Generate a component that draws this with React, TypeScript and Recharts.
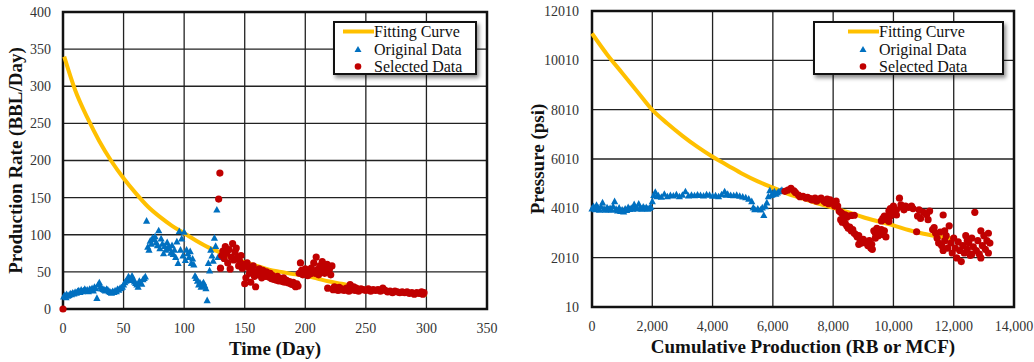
import React from 'react';
import { ScatterChart, Scatter, XAxis, YAxis, CartesianGrid, ReferenceArea, Legend, Label } from 'recharts';

const FONT = '"Liberation Serif", "Times New Roman", Times, serif';
const GOLD = '#FFC000';
const BLUE = '#0070C0';
const RED = '#C00000';

// ---------- Left chart: rate vs time ----------
const TIME_TICKS = [0, 50, 100, 150, 200, 250, 300, 350];
const RATE_TICKS = [0, 50, 100, 150, 200, 250, 300, 350, 400];

const RATE_CURVE = [
  [1, 340], [10, 295], [20, 258], [30, 226], [40, 199], [50, 176], [60, 156], [70, 138], [80, 124],
  [90, 112], [100, 102], [110, 92], [120, 83], [130, 76], [140, 69], [150, 63], [160, 58], [170, 53],
  [180, 50], [190, 47], [200, 45], [210, 41], [220, 37], [230, 34], [240, 30], [250, 27], [260, 25],
  [270, 23], [280, 21], [290, 20], [300, 19],
];

const RATE_ORIGINAL = [
  [0.5, 17], [1.5, 19], [2.5, 16], [3, 20], [4, 18], [5, 19], [6, 21], [7, 20], [8, 22], [9, 21], [10, 23],
  [11, 22], [12, 24], [13, 25], [14, 23], [15, 26], [16, 24], [17, 25], [18, 27], [19, 25], [20, 26],
  [21, 24], [22, 27], [23, 26], [24, 28], [25, 25], [26, 30], [27, 28], [28, 15], [29, 33], [30, 36],
  [31, 30], [32, 28], [33, 27], [34, 26], [35, 25], [36, 27], [37, 26], [38, 24], [39, 23], [40, 22],
  [41, 24], [42, 23], [43, 25], [44, 24], [45, 27], [46, 26], [47, 28], [48, 29], [49, 30], [50, 33],
  [51, 36], [52, 38], [53, 40], [54, 44], [55, 42], [56, 39], [57, 45], [58, 41], [59, 37], [60, 35],
  [61, 33], [62, 30], [63, 38], [64, 36], [65, 34], [66, 40], [67, 42], [68, 44], [69, 119], [70, 84],
  [71, 80], [72, 92], [73, 88], [74, 96], [75, 94], [76, 98], [77, 90], [78, 86], [79, 106], [80, 82],
  [81, 95], [82, 88], [83, 75], [84, 85], [85, 80], [86, 90], [87, 84], [88, 82], [89, 76], [90, 86],
  [91, 74], [92, 80], [93, 70], [94, 91], [95, 62], [96, 105], [97, 80], [98, 95], [99, 72], [100, 104],
  [101, 66], [102, 80], [103, 75], [104, 70], [105, 78], [106, 62], [107, 68], [108, 60], [109, 45],
  [110, 42], [111, 38], [112, 33], [113, 36], [114, 30], [115, 34], [116, 36], [117, 32], [118, 28],
  [119, 12], [120, 62], [121, 52], [122, 80], [123, 72], [124, 65], [125, 96], [126, 85], [127, 134], [128, 70],
];

const RATE_SELECTED = [
  [0, 0], [128.5, 148], [129.5, 183], [130, 55], [131, 72], [132, 78], [133, 68], [134, 84], [135, 75],
  [136, 62], [137, 80], [138, 54], [139, 70], [140, 88], [141, 66], [142, 77], [143, 82], [144, 70],
  [145, 58], [146, 64], [147, 72], [148, 55], [149, 60], [150, 34], [151, 42], [152, 62], [153, 56],
  [154, 48], [155, 36], [156, 52], [157, 58], [158, 44], [159, 30], [160, 50], [161, 46], [162, 54],
  [163, 48], [164, 42], [165, 52], [166, 47], [167, 44], [168, 50], [169, 46], [170, 43], [171, 48],
  [172, 41], [173, 45], [174, 40], [175, 42], [176, 39], [177, 44], [178, 38], [179, 41], [180, 40],
  [181, 37], [182, 42], [183, 36], [184, 39], [185, 38], [186, 35], [187, 37], [188, 34], [189, 33],
  [190, 36], [191, 32], [192, 30], [193, 34], [194, 31], [195, 48], [196, 62], [197, 52], [198, 46],
  [199, 50], [200, 54], [201, 48], [202, 45], [203, 52], [204, 47], [205, 55], [206, 50], [207, 62],
  [208, 48], [209, 70], [210, 53], [211, 46], [212, 58], [213, 50], [214, 64], [215, 52], [216, 48],
  [217, 56], [218, 60], [219, 50], [220, 54], [221, 46], [222, 58], [218.5, 28], [223, 26], [224, 30],
  [225, 27], [226, 28], [227, 25], [228, 29], [229, 26], [230, 27], [232, 25], [234, 28], [236, 24],
  [237, 33], [238, 26], [240, 30], [241, 25], [242, 28], [244, 24], [246, 27], [248, 26], [250, 25],
  [252, 27], [254, 24], [256, 26], [258, 25], [260, 26], [262, 24], [264, 28], [266, 25], [268, 23],
  [270, 24], [272, 22], [274, 24], [276, 23], [278, 22], [280, 23], [282, 22], [284, 23], [286, 21],
  [288, 22], [290, 20], [292, 22], [294, 21], [296, 23], [297, 20], [298, 22],
];

// ---------- Right chart: pressure vs cumulative production ----------
const CUM_TICKS = [0, 2000, 4000, 6000, 8000, 10000, 12000, 14000];
const PRESS_TICKS = [10, 2010, 4010, 6010, 8010, 10010, 12010];

const PRESS_CURVE = [
  [0, 11100], [500, 10250], [1000, 9500], [1500, 8750], [2000, 8000], [2500, 7450], [3000, 6950],
  [3500, 6500], [4000, 6100], [4500, 5750], [5000, 5400], [5500, 5100], [6000, 4850], [6500, 4600],
  [7000, 4400], [7500, 4200], [8000, 4030], [8500, 3850], [9000, 3650], [9500, 3480], [10000, 3320],
  [10500, 3130], [11000, 2980], [11500, 2870], [12000, 2780],
];

const PRESS_ORIGINAL = [
  [0, 4010], [50, 4100], [100, 3980], [150, 4150], [200, 4050], [250, 3960], [300, 4090], [350, 4250],
  [400, 4000], [450, 3950], [500, 4050], [550, 3980], [600, 4020], [650, 3960], [700, 4100], [750, 4300],
  [800, 3990], [850, 3920], [900, 4040], [950, 3900], [1000, 3960], [1050, 3880], [1100, 4000],
  [1150, 3940], [1200, 4060], [1250, 3990], [1300, 4030], [1350, 4000], [1400, 4180], [1450, 4060],
  [1500, 4010], [1550, 4200], [1600, 4050], [1650, 4000], [1700, 4080], [1750, 4020], [1800, 4060],
  [1850, 4000], [1900, 4030], [1950, 4080], [2000, 4300], [2050, 4550], [2100, 4680], [2150, 4500],
  [2200, 4540], [2300, 4480], [2400, 4600], [2500, 4500], [2600, 4550], [2700, 4530], [2800, 4580],
  [2900, 4500], [3000, 4560], [3100, 4700], [3200, 4530], [3300, 4560], [3400, 4540], [3500, 4570],
  [3600, 4550], [3700, 4530], [3800, 4580], [3900, 4560], [4000, 4520], [4100, 4540], [4200, 4500],
  [4300, 4580], [4400, 4700], [4450, 4560], [4500, 4600], [4600, 4550], [4700, 4540], [4800, 4560],
  [4900, 4520], [5000, 4490], [5100, 4460], [5200, 4400], [5300, 4300], [5350, 4050], [5400, 3980],
  [5500, 4000], [5600, 3970], [5650, 4050], [5700, 3740], [5750, 4100], [5800, 4250], [5850, 4500],
  [5900, 4750], [5950, 4550], [6000, 4580], [6050, 4700], [6100, 4600], [6150, 4650], [6200, 4700],
  [6250, 4720], [6300, 4760],
];

const PRESS_SELECTED = [
  [6400, 4700], [6500, 4750], [6600, 4820], [6700, 4720], [6750, 4650], [6850, 4550], [6900, 4480],
  [7000, 4500], [7100, 4420], [7150, 4460], [7250, 4400], [7300, 4350], [7400, 4420], [7450, 4300],
  [7550, 4380], [7600, 4420], [7700, 4300], [7750, 4250], [7800, 4380], [7850, 4200], [7900, 4350],
  [8000, 4250], [8050, 4100], [8100, 4300], [8150, 4100], [8200, 3900], [8250, 3850], [8300, 3800],
  [8350, 3700], [8400, 3750], [8450, 3650], [8500, 3700], [8600, 3720], [8700, 3730], [8250, 3550],
  [8300, 3450], [8350, 3600], [8400, 3400], [8450, 3300], [8500, 3200], [8550, 3250], [8600, 3100],
  [8650, 3150], [8700, 3000], [8750, 2950], [8800, 2850], [8850, 2900], [8900, 2700], [8950, 2600],
  [8850, 2550], [9000, 2750], [9050, 2650], [9100, 2600], [9150, 2500], [9200, 2700], [9250, 2400],
  [9300, 2350], [9280, 2550], [9350, 3100], [9400, 3000], [9450, 3200], [9500, 2900], [9550, 3050],
  [9600, 3150], [9650, 2950], [9700, 3100], [9750, 2850], [9400, 2800], [9600, 3500], [9650, 3600],
  [9700, 3700], [9750, 3550], [9800, 3650], [9850, 3480], [9900, 3700], [9850, 3900], [9900, 4000],
  [9950, 3850], [10000, 4100], [10050, 3800], [10100, 3950], [10100, 3740], [10200, 4420],
  [10250, 4150], [10300, 4050], [10350, 3950], [10400, 4100], [10500, 4050], [10600, 4100],
  [10650, 4000], [10770, 3060], [10800, 3700], [10850, 3950], [10900, 3600], [11000, 3850],
  [11100, 3750], [11150, 3550], [11200, 3900], [11300, 3150], [11350, 3230], [11400, 3000],
  [11450, 2800], [11500, 2600], [11550, 3050], [11600, 2500], [11650, 3740], [11650, 2300],
  [11700, 2700], [11750, 2900], [11800, 2400], [11850, 3300], [11900, 2600], [11950, 2200],
  [12000, 2800], [12050, 2400], [12100, 2000], [12150, 2650], [12200, 2300], [12250, 1850],
  [12300, 2500], [12350, 2200], [12400, 2900], [12450, 2350], [12500, 2600], [12550, 2100],
  [12600, 2800], [12650, 2450], [12700, 3850], [12750, 2300], [12800, 2700], [12850, 2150],
  [12900, 3100], [12950, 2500], [13000, 2900], [13050, 2350], [13100, 2700], [13150, 2200],
  [13200, 2600], [12600, 2150], [12900, 2000], [13150, 3000], [11700, 3100], [12450, 2700],
];

const LEGEND_LABELS = ['Fitting Curve', 'Original Data', 'Selected Data'];

const toPts = (arr: number[][]) => arr.map(([x, y]) => ({ x, y }));

const Triangle = (p: any) => {
  const { cx, cy } = p;
  if (cx == null || cy == null) return <g />;
  const s = 3.6;
  return <polygon points={`${cx},${cy - s} ${cx + s},${cy + s * 0.85} ${cx - s},${cy + s * 0.85}`} fill={BLUE} />;
};
const Dot = (p: any) => {
  const { cx, cy } = p;
  if (cx == null || cy == null) return <g />;
  return <circle cx={cx} cy={cy} r={3.6} fill={RED} />;
};
const NoShape = () => <g />;

const LegendBox = ({ pad, width }: { pad: number; width: number }) => (
  <div
    style={{
      width,
      height: 54,
      boxSizing: 'border-box',
      border: '2px solid #111',
      background: '#fff',
      boxShadow: '2px 3px 4px rgba(0,0,0,0.45)',
      fontFamily: FONT,
      fontSize: 16,
      color: '#111',
      paddingLeft: pad,
      paddingTop: 0,
    }}
  >
    {LEGEND_LABELS.map((lab, i) => (
      <div key={lab} style={{ display: 'flex', alignItems: 'center', height: 17.5, lineHeight: '17.5px' }}>
        <svg width={31} height={17} style={{ flex: 'none' }}>
          {i === 0 && <line x1={0} y1={8.5} x2={31} y2={8.5} stroke={GOLD} strokeWidth={4} />}
          {i === 1 && <polygon points="15,5 18.5,11 11.5,11" fill={BLUE} />}
          {i === 2 && <circle cx={15} cy={8.5} r={3.3} fill={RED} />}
        </svg>
        <span style={{ whiteSpace: 'nowrap', fontFamily: '"Liberation Serif", serif', fontSize: 16 }}>{lab}</span>
      </div>
    ))}
  </div>
);

type PanelProps = {
  width: number;
  height: number;
  margin: { top: number; right: number; left: number; bottom: number };
  yWidth: number;
  xHeight: number;
  xTicks: number[];
  yTicks: number[];
  xFmt?: (v: number) => string;
  xTitle: string;
  yTitle: string;
  yTitleX: number;
  curve: number[][];
  original: number[][];
  selected: number[][];
  legendLeft: number;
  legendWidth: number;
  legendPad: number;
  tickMarginY: number;
};

const Panel = (p: PanelProps) => {
  const xDom = [p.xTicks[0], p.xTicks[p.xTicks.length - 1]];
  const yDom = [p.yTicks[0], p.yTicks[p.yTicks.length - 1]];
  const tickStyle = { fontFamily: FONT, fontSize: 14, fill: '#333' };
  const titleStyle = { fontFamily: FONT, fontSize: 19, fontWeight: 700, fill: '#111' } as any;
  return (
    <ScatterChart width={p.width} height={p.height} margin={p.margin}>
      <CartesianGrid stroke="#222" strokeWidth={1.3} />
      <XAxis
        type="number"
        dataKey="x"
        domain={xDom}
        ticks={p.xTicks}
        interval={0}
        tickLine={false}
        axisLine={false}
        tickMargin={8}
        height={p.xHeight}
        tick={tickStyle}
        tickFormatter={p.xFmt}
      >
        <Label
          content={(lp: any) => {
            const vb = lp.viewBox || {};
            return (
              <text x={vb.x + vb.width / 2} y={vb.y + 39} textAnchor="middle" dominantBaseline="central" style={titleStyle}>
                {p.xTitle}
              </text>
            );
          }}
        />
      </XAxis>
      <YAxis
        type="number"
        dataKey="y"
        domain={yDom}
        ticks={p.yTicks}
        interval={0}
        tickLine={false}
        axisLine={false}
        tickMargin={p.tickMarginY}
        width={p.yWidth}
        tick={tickStyle}
      >
        <Label
          content={(lp: any) => {
            const vb = lp.viewBox || {};
            const cx = vb.x + p.yTitleX;
            const cy = vb.y + vb.height / 2;
            return (
              <text x={cx} y={cy} transform={`rotate(-90 ${cx} ${cy})`} textAnchor="middle" dominantBaseline="central" style={titleStyle}>
                {p.yTitle}
              </text>
            );
          }}
        />
      </YAxis>
      <ReferenceArea x1={xDom[0]} x2={xDom[1]} y1={yDom[0]} y2={yDom[1]} fill="none" fillOpacity={0} stroke="#111" strokeWidth={2.5} />
      <Scatter
        name="Fitting Curve"
        data={toPts(p.curve)}
        line={{ stroke: GOLD, strokeWidth: 4 }}
        lineJointType="monotoneX"
        shape={NoShape}
        isAnimationActive={false}
      />
      <Scatter name="Original Data" data={toPts(p.original)} shape={Triangle} isAnimationActive={false} />
      <Scatter name="Selected Data" data={toPts(p.selected)} shape={Dot} isAnimationActive={false} />
      <Legend
        layout="vertical"
        align="center"
        verticalAlign="middle"
        wrapperStyle={{ left: p.legendLeft, top: 21, width: p.legendWidth, height: 54, right: 'auto', bottom: 'auto', margin: 0 }}
        content={() => <LegendBox pad={p.legendPad} width={p.legendWidth} />}
      />
    </ScatterChart>
  );
};

export default function App() {
  return (
    <div style={{ position: 'absolute', left: 0, top: 0, width: 1034, height: 362, display: 'flex', background: '#fff' }}>
      <Panel
        width={510}
        height={362}
        margin={{ top: 12, right: 23, left: 0, bottom: 0 }}
        yWidth={63}
        xHeight={53}
        xTicks={TIME_TICKS}
        yTicks={RATE_TICKS}
        xTitle="Time (Day)"
        yTitle="Production Rate (BBL/Day)"
        yTitleX={15}
        curve={RATE_CURVE}
        original={RATE_ORIGINAL}
        selected={RATE_SELECTED}
        legendLeft={333}
        legendWidth={144}
        legendPad={8}
        tickMarginY={6}
      />
      <Panel
        width={524}
        height={362}
        margin={{ top: 11, right: 20, left: 0, bottom: 0 }}
        yWidth={82}
        xHeight={55}
        xTicks={CUM_TICKS}
        yTicks={PRESS_TICKS}
        xFmt={(v: number) => v.toLocaleString('en-US')}
        xTitle="Cumulative Production (RB or MCF)"
        yTitle="Pressure (psi)"
        yTitleX={27}
        curve={PRESS_CURVE}
        original={PRESS_ORIGINAL}
        selected={PRESS_SELECTED}
        legendLeft={303}
        legendWidth={191}
        legendPad={33}
        tickMarginY={7}
      />
    </div>
  );
}
